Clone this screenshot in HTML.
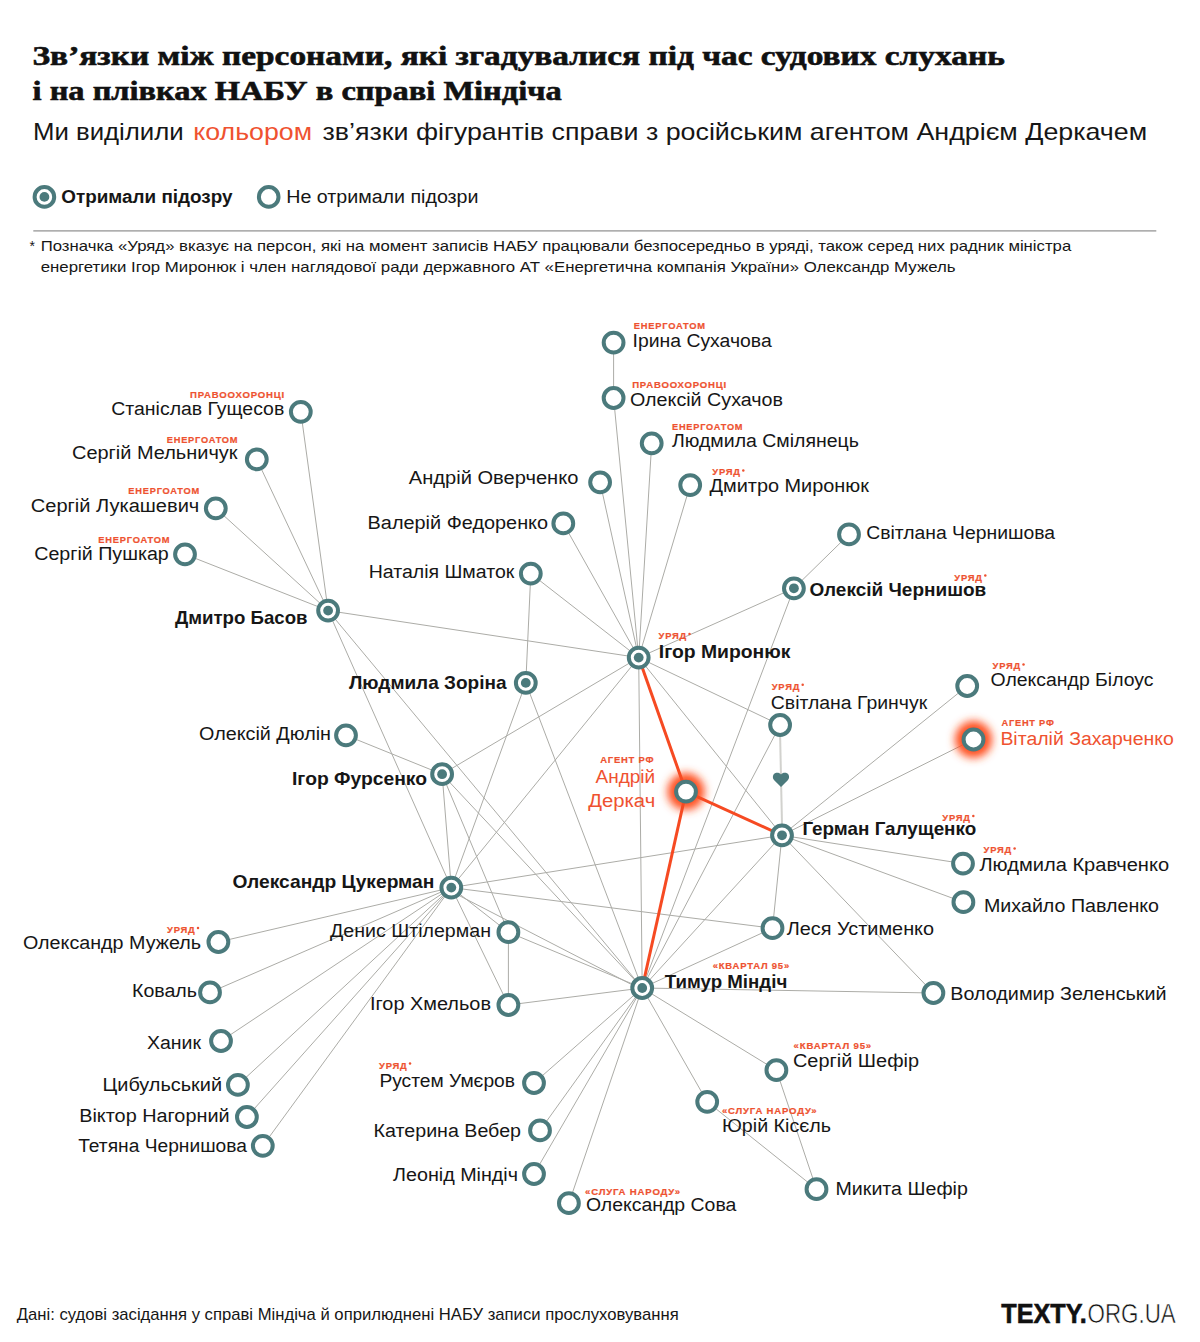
<!DOCTYPE html>
<html><head><meta charset="utf-8"><style>
html,body{margin:0;padding:0;background:#fff;}
body{width:1200px;height:1342px;overflow:hidden;}
svg{display:block;}
text{font-family:"Liberation Sans",sans-serif;}
.n{font-size:18px;fill:#161616;}
.b{font-size:18.5px;font-weight:bold;fill:#161616;}
.t{font-size:9.6px;font-weight:bold;letter-spacing:0.8px;fill:#ee5230;stroke:#ee5230;stroke-width:0.2px;}
.o{font-size:18px;fill:#ef5230;}
</style></head><body>
<svg width="1200" height="1342" viewBox="0 0 1200 1342">
<defs>
<filter id="glow" x="-100%" y="-100%" width="300%" height="300%"><feGaussianBlur stdDeviation="4"/></filter>
</defs>

<text x="32.5" y="65" textLength="972.3" lengthAdjust="spacingAndGlyphs" style="font-family:'Liberation Serif',serif;font-weight:bold;font-size:28px;fill:#111;stroke:#111;stroke-width:0.6px">Зв’язки між персонами, які згадувалися під час судових слухань</text>
<text x="32.5" y="99.7" textLength="529.2" lengthAdjust="spacingAndGlyphs" style="font-family:'Liberation Serif',serif;font-weight:bold;font-size:28px;fill:#111;stroke:#111;stroke-width:0.6px">і на плівках НАБУ в справі Міндіча</text>
<text x="33" y="140" textLength="150.7" lengthAdjust="spacingAndGlyphs" style="font-size:24px;fill:#161616">Ми виділили</text>
<text x="193.3" y="140" textLength="118.7" lengthAdjust="spacingAndGlyphs" style="font-size:24px;fill:#ef5230">кольором</text>
<text x="322.5" y="140" textLength="824.7" lengthAdjust="spacingAndGlyphs" style="font-size:24px;fill:#161616">зв’язки фігурантів справи з російським агентом Андрієм Деркачем</text>
<circle cx="44.4" cy="196.9" r="9.8" fill="#fff" stroke="#4b7a7c" stroke-width="4"/><circle cx="44.4" cy="196.9" r="4.9" fill="#4b7a7c"/>
<text x="61.3" y="203" textLength="171.2" lengthAdjust="spacingAndGlyphs" style="font-size:18px;font-weight:bold;fill:#161616">Отримали підозру</text>
<circle cx="268.7" cy="196.9" r="9.8" fill="#fff" stroke="#4b7a7c" stroke-width="4"/>
<text x="286.3" y="203.1" textLength="192.2" lengthAdjust="spacingAndGlyphs" style="font-size:18px;fill:#161616">Не отримали підозри</text>
<rect x="33.3" y="230.3" width="1123" height="1.2" fill="#8d8d8d"/>
<text x="29.5" y="251" style="font-size:14px;fill:#161616">*</text>
<text x="40.7" y="251.2" textLength="1030.5" lengthAdjust="spacingAndGlyphs" style="font-size:14.2px;fill:#161616">Позначка «Уряд» вказує на персон, які на момент записів НАБУ працювали безпосередньо в уряді, також серед них радник міністра</text>
<text x="40.7" y="272" textLength="914.8" lengthAdjust="spacingAndGlyphs" style="font-size:14.2px;fill:#161616">енергетики Ігор Миронюк і член наглядової ради державного АТ «Енергетична компанія України» Олександр Мужель</text>
<g stroke="#acaca7" stroke-width="1" fill="none">
<line x1="328.1" y1="610.6" x2="300.8" y2="411.8"/>
<line x1="328.1" y1="610.6" x2="256.8" y2="459.3"/>
<line x1="328.1" y1="610.6" x2="215.8" y2="508.3"/>
<line x1="328.1" y1="610.6" x2="185.0" y2="554.3"/>
<line x1="328.1" y1="610.6" x2="638.7" y2="657.6"/>
<line x1="328.1" y1="610.6" x2="451.3" y2="887.6"/>
<line x1="328.1" y1="610.6" x2="642.2" y2="988.0"/>
<line x1="613.6" y1="342.6" x2="613.6" y2="398.0"/>
<line x1="638.7" y1="657.6" x2="613.6" y2="398.0"/>
<line x1="638.7" y1="657.6" x2="651.7" y2="443.3"/>
<line x1="638.7" y1="657.6" x2="600.1" y2="482.3"/>
<line x1="638.7" y1="657.6" x2="690.2" y2="485.1"/>
<line x1="638.7" y1="657.6" x2="563.3" y2="523.4"/>
<line x1="638.7" y1="657.6" x2="530.8" y2="573.6"/>
<line x1="638.7" y1="657.6" x2="793.9" y2="588.3"/>
<line x1="638.7" y1="657.6" x2="442.1" y2="774.2"/>
<line x1="638.7" y1="657.6" x2="451.3" y2="887.6"/>
<line x1="638.7" y1="657.6" x2="642.2" y2="988.0"/>
<line x1="638.7" y1="657.6" x2="782.0" y2="835.3"/>
<line x1="638.7" y1="657.6" x2="780.1" y2="725.0"/>
<line x1="849.0" y1="534.4" x2="793.9" y2="588.3"/>
<line x1="793.9" y1="588.3" x2="642.2" y2="988.0"/>
<line x1="530.8" y1="573.6" x2="525.8" y2="682.9"/>
<line x1="525.8" y1="682.9" x2="451.3" y2="887.6"/>
<line x1="525.8" y1="682.9" x2="642.2" y2="988.0"/>
<line x1="346.0" y1="735.3" x2="442.1" y2="774.2"/>
<line x1="442.1" y1="774.2" x2="451.3" y2="887.6"/>
<line x1="442.1" y1="774.2" x2="508.4" y2="932.2"/>
<line x1="442.1" y1="774.2" x2="642.2" y2="988.0"/>
<line x1="780.1" y1="725.0" x2="642.2" y2="988.0"/>
<line x1="782.0" y1="835.3" x2="967.2" y2="686.0"/>
<line x1="782.0" y1="835.3" x2="973.5" y2="739.5"/>
<line x1="782.0" y1="835.3" x2="963.0" y2="863.6"/>
<line x1="782.0" y1="835.3" x2="963.4" y2="902.2"/>
<line x1="782.0" y1="835.3" x2="933.4" y2="993.0"/>
<line x1="782.0" y1="835.3" x2="772.5" y2="928.2"/>
<line x1="782.0" y1="835.3" x2="642.2" y2="988.0"/>
<line x1="782.0" y1="835.3" x2="451.3" y2="887.6"/>
<line x1="451.3" y1="887.6" x2="218.4" y2="942.0"/>
<line x1="451.3" y1="887.6" x2="210.0" y2="992.4"/>
<line x1="451.3" y1="887.6" x2="221.0" y2="1041.0"/>
<line x1="451.3" y1="887.6" x2="237.9" y2="1084.9"/>
<line x1="451.3" y1="887.6" x2="246.9" y2="1117.0"/>
<line x1="451.3" y1="887.6" x2="262.8" y2="1145.8"/>
<line x1="451.3" y1="887.6" x2="508.4" y2="932.2"/>
<line x1="451.3" y1="887.6" x2="508.4" y2="1005.0"/>
<line x1="451.3" y1="891.5" x2="642.2" y2="990.0"/>
<line x1="451.3" y1="887.6" x2="772.5" y2="928.2"/>
<line x1="508.4" y1="932.2" x2="508.4" y2="1005.0"/>
<line x1="508.4" y1="932.2" x2="642.2" y2="988.0"/>
<line x1="508.4" y1="1005.0" x2="642.2" y2="988.0"/>
<line x1="772.5" y1="928.2" x2="642.2" y2="988.0"/>
<line x1="642.2" y1="988.0" x2="933.4" y2="993.0"/>
<line x1="642.2" y1="988.0" x2="776.4" y2="1070.2"/>
<line x1="642.2" y1="988.0" x2="707.2" y2="1101.8"/>
<line x1="642.2" y1="988.0" x2="568.9" y2="1203.2"/>
<line x1="642.2" y1="988.0" x2="534.0" y2="1174.0"/>
<line x1="642.2" y1="988.0" x2="540.0" y2="1130.4"/>
<line x1="642.2" y1="988.0" x2="534.0" y2="1083.0"/>
<line x1="776.4" y1="1070.2" x2="816.5" y2="1189.2"/>
<line x1="707.2" y1="1101.8" x2="816.5" y2="1189.2"/>
</g>
<circle cx="686.0" cy="791.6" r="18.5" fill="#ff4d1f" filter="url(#glow)"/>
<circle cx="973.5" cy="739.5" r="18.5" fill="#ff4d1f" filter="url(#glow)"/>
<g stroke="#f64a22" stroke-width="3" fill="none">
<line x1="638.7" y1="657.6" x2="686.0" y2="791.6"/>
<line x1="686.0" y1="791.6" x2="782.0" y2="835.3"/>
<line x1="686.0" y1="791.6" x2="642.2" y2="988.0"/>
</g>
<line x1="780.1" y1="735" x2="782" y2="825" stroke="#d2d2ce" stroke-width="2"/>
<path d="M781,787 L774.2,780.2 C772.2,778.2 772.6,774.4 775,773.3 C777.3,772.3 779.8,772.9 781,774.6 C782.2,772.9 784.7,772.3 787,773.3 C789.4,774.4 789.8,778.2 787.8,780.2 Z" fill="#4b7a7c"/>
<circle cx="300.8" cy="411.8" r="9.9" fill="#fff" stroke="#4b7a7c" stroke-width="4"/>
<circle cx="256.8" cy="459.3" r="9.9" fill="#fff" stroke="#4b7a7c" stroke-width="4"/>
<circle cx="215.8" cy="508.3" r="9.9" fill="#fff" stroke="#4b7a7c" stroke-width="4"/>
<circle cx="185.0" cy="554.3" r="9.9" fill="#fff" stroke="#4b7a7c" stroke-width="4"/>
<circle cx="328.1" cy="610.6" r="9.9" fill="#fff" stroke="#4b7a7c" stroke-width="4"/>
<circle cx="328.1" cy="610.6" r="4.9" fill="#4b7a7c"/>
<circle cx="613.6" cy="342.6" r="9.9" fill="#fff" stroke="#4b7a7c" stroke-width="4"/>
<circle cx="613.6" cy="398.0" r="9.9" fill="#fff" stroke="#4b7a7c" stroke-width="4"/>
<circle cx="651.7" cy="443.3" r="9.9" fill="#fff" stroke="#4b7a7c" stroke-width="4"/>
<circle cx="600.1" cy="482.3" r="9.9" fill="#fff" stroke="#4b7a7c" stroke-width="4"/>
<circle cx="690.2" cy="485.1" r="9.9" fill="#fff" stroke="#4b7a7c" stroke-width="4"/>
<circle cx="563.3" cy="523.4" r="9.9" fill="#fff" stroke="#4b7a7c" stroke-width="4"/>
<circle cx="530.8" cy="573.6" r="9.9" fill="#fff" stroke="#4b7a7c" stroke-width="4"/>
<circle cx="849.0" cy="534.4" r="9.9" fill="#fff" stroke="#4b7a7c" stroke-width="4"/>
<circle cx="793.9" cy="588.3" r="9.9" fill="#fff" stroke="#4b7a7c" stroke-width="4"/>
<circle cx="793.9" cy="588.3" r="4.9" fill="#4b7a7c"/>
<circle cx="638.7" cy="657.6" r="9.9" fill="#fff" stroke="#4b7a7c" stroke-width="4"/>
<circle cx="638.7" cy="657.6" r="4.9" fill="#4b7a7c"/>
<circle cx="525.8" cy="682.9" r="9.9" fill="#fff" stroke="#4b7a7c" stroke-width="4"/>
<circle cx="525.8" cy="682.9" r="4.9" fill="#4b7a7c"/>
<circle cx="346.0" cy="735.3" r="9.9" fill="#fff" stroke="#4b7a7c" stroke-width="4"/>
<circle cx="442.1" cy="774.2" r="9.9" fill="#fff" stroke="#4b7a7c" stroke-width="4"/>
<circle cx="442.1" cy="774.2" r="4.9" fill="#4b7a7c"/>
<circle cx="686.0" cy="791.6" r="9.9" fill="#fff" stroke="#4b7a7c" stroke-width="4"/>
<circle cx="780.1" cy="725.0" r="9.9" fill="#fff" stroke="#4b7a7c" stroke-width="4"/>
<circle cx="967.2" cy="686.0" r="9.9" fill="#fff" stroke="#4b7a7c" stroke-width="4"/>
<circle cx="973.5" cy="739.5" r="9.9" fill="#fff" stroke="#4b7a7c" stroke-width="4"/>
<circle cx="782.0" cy="835.3" r="9.9" fill="#fff" stroke="#4b7a7c" stroke-width="4"/>
<circle cx="782.0" cy="835.3" r="4.9" fill="#4b7a7c"/>
<circle cx="963.0" cy="863.6" r="9.9" fill="#fff" stroke="#4b7a7c" stroke-width="4"/>
<circle cx="963.4" cy="902.2" r="9.9" fill="#fff" stroke="#4b7a7c" stroke-width="4"/>
<circle cx="451.3" cy="887.6" r="9.9" fill="#fff" stroke="#4b7a7c" stroke-width="4"/>
<circle cx="451.3" cy="887.6" r="4.9" fill="#4b7a7c"/>
<circle cx="508.4" cy="932.2" r="9.9" fill="#fff" stroke="#4b7a7c" stroke-width="4"/>
<circle cx="772.5" cy="928.2" r="9.9" fill="#fff" stroke="#4b7a7c" stroke-width="4"/>
<circle cx="218.4" cy="942.0" r="9.9" fill="#fff" stroke="#4b7a7c" stroke-width="4"/>
<circle cx="642.2" cy="988.0" r="9.9" fill="#fff" stroke="#4b7a7c" stroke-width="4"/>
<circle cx="642.2" cy="988.0" r="4.9" fill="#4b7a7c"/>
<circle cx="933.4" cy="993.0" r="9.9" fill="#fff" stroke="#4b7a7c" stroke-width="4"/>
<circle cx="210.0" cy="992.4" r="9.9" fill="#fff" stroke="#4b7a7c" stroke-width="4"/>
<circle cx="508.4" cy="1005.0" r="9.9" fill="#fff" stroke="#4b7a7c" stroke-width="4"/>
<circle cx="221.0" cy="1041.0" r="9.9" fill="#fff" stroke="#4b7a7c" stroke-width="4"/>
<circle cx="776.4" cy="1070.2" r="9.9" fill="#fff" stroke="#4b7a7c" stroke-width="4"/>
<circle cx="534.0" cy="1083.0" r="9.9" fill="#fff" stroke="#4b7a7c" stroke-width="4"/>
<circle cx="237.9" cy="1084.9" r="9.9" fill="#fff" stroke="#4b7a7c" stroke-width="4"/>
<circle cx="707.2" cy="1101.8" r="9.9" fill="#fff" stroke="#4b7a7c" stroke-width="4"/>
<circle cx="246.9" cy="1117.0" r="9.9" fill="#fff" stroke="#4b7a7c" stroke-width="4"/>
<circle cx="540.0" cy="1130.4" r="9.9" fill="#fff" stroke="#4b7a7c" stroke-width="4"/>
<circle cx="262.8" cy="1145.8" r="9.9" fill="#fff" stroke="#4b7a7c" stroke-width="4"/>
<circle cx="534.0" cy="1174.0" r="9.9" fill="#fff" stroke="#4b7a7c" stroke-width="4"/>
<circle cx="816.5" cy="1189.2" r="9.9" fill="#fff" stroke="#4b7a7c" stroke-width="4"/>
<circle cx="568.9" cy="1203.2" r="9.9" fill="#fff" stroke="#4b7a7c" stroke-width="4"/>
<text class="t" x="190.0" y="397.5" textLength="95.0" lengthAdjust="spacingAndGlyphs">ПРАВООХОРОНЦІ</text>
<text class="n" x="111.3" y="415.0" textLength="173.0" lengthAdjust="spacingAndGlyphs">Станіслав Гущесов</text>
<text class="t" x="166.8" y="442.5" textLength="71.5" lengthAdjust="spacingAndGlyphs">ЕНЕРГОАТОМ</text>
<text class="n" x="72.0" y="459.4" textLength="165.5" lengthAdjust="spacingAndGlyphs">Сергій Мельничук</text>
<text class="t" x="128.3" y="494.0" textLength="71.7" lengthAdjust="spacingAndGlyphs">ЕНЕРГОАТОМ</text>
<text class="n" x="30.8" y="511.5" textLength="168.5" lengthAdjust="spacingAndGlyphs">Сергій Лукашевич</text>
<text class="t" x="98.3" y="542.5" textLength="72.0" lengthAdjust="spacingAndGlyphs">ЕНЕРГОАТОМ</text>
<text class="n" x="34.2" y="560.0" textLength="134.6" lengthAdjust="spacingAndGlyphs">Сергій Пушкар</text>
<text class="b" x="175.0" y="624.2" textLength="132.5" lengthAdjust="spacingAndGlyphs">Дмитро Басов</text>
<text class="t" x="633.8" y="328.8" textLength="72.0" lengthAdjust="spacingAndGlyphs">ЕНЕРГОАТОМ</text>
<text class="n" x="632.5" y="347.0" textLength="139.2" lengthAdjust="spacingAndGlyphs">Ірина Сухачова</text>
<text class="t" x="632.2" y="388.0" textLength="94.8" lengthAdjust="spacingAndGlyphs">ПРАВООХОРОНЦІ</text>
<text class="n" x="630.0" y="406.3" textLength="153.0" lengthAdjust="spacingAndGlyphs">Олексій Сухачов</text>
<text class="t" x="672.0" y="429.7" textLength="71.3" lengthAdjust="spacingAndGlyphs">ЕНЕРГОАТОМ</text>
<text class="n" x="672.0" y="446.5" textLength="186.9" lengthAdjust="spacingAndGlyphs">Людмила Смілянець</text>
<text class="n" x="408.8" y="483.8" textLength="169.6" lengthAdjust="spacingAndGlyphs">Андрій Оверченко</text>
<text class="t" x="712.3" y="475.4" textLength="28.5" lengthAdjust="spacingAndGlyphs">УРЯД</text>
<circle cx="743.3" cy="470.4" r="1.25" fill="#ee5230"/>
<text class="n" x="709.5" y="492.4" textLength="159.5" lengthAdjust="spacingAndGlyphs">Дмитро Миронюк</text>
<text class="n" x="367.6" y="529.3" textLength="180.5" lengthAdjust="spacingAndGlyphs">Валерій Федоренко</text>
<text class="n" x="368.7" y="578.1" textLength="145.6" lengthAdjust="spacingAndGlyphs">Наталія Шматок</text>
<text class="n" x="866.3" y="538.8" textLength="188.7" lengthAdjust="spacingAndGlyphs">Світлана Чернишова</text>
<text class="t" x="954.3" y="580.5" textLength="28.5" lengthAdjust="spacingAndGlyphs">УРЯД</text>
<circle cx="985.3" cy="575.5" r="1.25" fill="#ee5230"/>
<text class="b" x="809.5" y="596.3" textLength="176.8" lengthAdjust="spacingAndGlyphs">Олексій Чернишов</text>
<text class="t" x="658.5" y="638.9" textLength="28.5" lengthAdjust="spacingAndGlyphs">УРЯД</text>
<circle cx="689.5" cy="633.9" r="1.25" fill="#ee5230"/>
<text class="b" x="658.8" y="657.6" textLength="131.7" lengthAdjust="spacingAndGlyphs">Ігор Миронюк</text>
<text class="b" x="349.0" y="689.1" textLength="157.5" lengthAdjust="spacingAndGlyphs">Людмила Зоріна</text>
<text class="n" x="199.0" y="740.4" textLength="132.0" lengthAdjust="spacingAndGlyphs">Олексій Дюлін</text>
<text class="b" x="292.0" y="785.4" textLength="135.0" lengthAdjust="spacingAndGlyphs">Ігор Фурсенко</text>
<text class="t" x="600.2" y="763.4" textLength="54.1" lengthAdjust="spacingAndGlyphs">АГЕНТ РФ</text>
<text class="o" x="595.6" y="782.8" textLength="59.6" lengthAdjust="spacingAndGlyphs">Андрій</text>
<text class="o" x="588.3" y="807.0" textLength="66.9" lengthAdjust="spacingAndGlyphs">Деркач</text>
<text class="t" x="771.7" y="689.7" textLength="28.5" lengthAdjust="spacingAndGlyphs">УРЯД</text>
<circle cx="802.7" cy="684.7" r="1.25" fill="#ee5230"/>
<text class="n" x="770.8" y="708.7" textLength="156.4" lengthAdjust="spacingAndGlyphs">Світлана Гринчук</text>
<text class="t" x="992.5" y="669.4" textLength="28.5" lengthAdjust="spacingAndGlyphs">УРЯД</text>
<circle cx="1023.5" cy="664.4" r="1.25" fill="#ee5230"/>
<text class="n" x="990.6" y="685.8" textLength="162.9" lengthAdjust="spacingAndGlyphs">Олександр Білоус</text>
<text class="t" x="1001.5" y="726.0" textLength="53.1" lengthAdjust="spacingAndGlyphs">АГЕНТ РФ</text>
<text class="o" x="1000.4" y="744.8" textLength="173.4" lengthAdjust="spacingAndGlyphs">Віталій Захарченко</text>
<text class="t" x="942.3" y="821.1" textLength="28.5" lengthAdjust="spacingAndGlyphs">УРЯД</text>
<circle cx="973.3" cy="816.1" r="1.25" fill="#ee5230"/>
<text class="b" x="802.4" y="834.8" textLength="173.8" lengthAdjust="spacingAndGlyphs">Герман Галущенко</text>
<text class="t" x="983.6" y="853.4" textLength="28.5" lengthAdjust="spacingAndGlyphs">УРЯД</text>
<circle cx="1014.6" cy="848.4" r="1.25" fill="#ee5230"/>
<text class="n" x="979.4" y="871.0" textLength="189.7" lengthAdjust="spacingAndGlyphs">Людмила Кравченко</text>
<text class="n" x="984.0" y="911.8" textLength="175.0" lengthAdjust="spacingAndGlyphs">Михайло Павленко</text>
<text class="b" x="232.4" y="887.6" textLength="202.0" lengthAdjust="spacingAndGlyphs">Олександр Цукерман</text>
<text class="n" x="330.0" y="937.0" textLength="161.0" lengthAdjust="spacingAndGlyphs">Денис Штілерман</text>
<text class="n" x="786.7" y="935.3" textLength="147.4" lengthAdjust="spacingAndGlyphs">Леся Устименко</text>
<text class="t" x="167.0" y="933.0" textLength="28.5" lengthAdjust="spacingAndGlyphs">УРЯД</text>
<circle cx="198.0" cy="928.0" r="1.25" fill="#ee5230"/>
<text class="n" x="23.0" y="949.0" textLength="178.0" lengthAdjust="spacingAndGlyphs">Олександр Мужель</text>
<text class="t" x="712.7" y="969.4" textLength="77.3" lengthAdjust="spacingAndGlyphs">«КВАРТАЛ 95»</text>
<text class="b" x="664.7" y="987.7" textLength="122.6" lengthAdjust="spacingAndGlyphs">Тимур Міндіч</text>
<text class="n" x="950.3" y="999.8" textLength="216.3" lengthAdjust="spacingAndGlyphs">Володимир Зеленський</text>
<text class="n" x="132.0" y="997.4" textLength="65.0" lengthAdjust="spacingAndGlyphs">Коваль</text>
<text class="n" x="370.0" y="1010.0" textLength="121.0" lengthAdjust="spacingAndGlyphs">Ігор Хмельов</text>
<text class="n" x="147.0" y="1049.4" textLength="54.0" lengthAdjust="spacingAndGlyphs">Ханик</text>
<text class="t" x="793.6" y="1049.0" textLength="78.4" lengthAdjust="spacingAndGlyphs">«КВАРТАЛ 95»</text>
<text class="n" x="793.0" y="1066.6" textLength="126.0" lengthAdjust="spacingAndGlyphs">Сергій Шефір</text>
<text class="t" x="379.0" y="1068.6" textLength="28.5" lengthAdjust="spacingAndGlyphs">УРЯД</text>
<circle cx="410.0" cy="1063.6" r="1.25" fill="#ee5230"/>
<text class="n" x="379.4" y="1087.0" textLength="135.6" lengthAdjust="spacingAndGlyphs">Рустем Умєров</text>
<text class="n" x="102.6" y="1091.0" textLength="119.4" lengthAdjust="spacingAndGlyphs">Цибульський</text>
<text class="t" x="722.0" y="1114.0" textLength="95.4" lengthAdjust="spacingAndGlyphs">«СЛУГА НАРОДУ»</text>
<text class="n" x="722.0" y="1132.0" textLength="109.0" lengthAdjust="spacingAndGlyphs">Юрій Кісєль</text>
<text class="n" x="79.2" y="1122.3" textLength="150.4" lengthAdjust="spacingAndGlyphs">Віктор Нагорний</text>
<text class="n" x="373.6" y="1137.0" textLength="147.4" lengthAdjust="spacingAndGlyphs">Катерина Вебер</text>
<text class="n" x="78.2" y="1152.0" textLength="168.7" lengthAdjust="spacingAndGlyphs">Тетяна Чернишова</text>
<text class="n" x="393.0" y="1181.0" textLength="125.0" lengthAdjust="spacingAndGlyphs">Леонід Міндіч</text>
<text class="n" x="835.5" y="1194.5" textLength="132.3" lengthAdjust="spacingAndGlyphs">Микита Шефір</text>
<text class="t" x="585.0" y="1194.5" textLength="95.9" lengthAdjust="spacingAndGlyphs">«СЛУГА НАРОДУ»</text>
<text class="n" x="585.9" y="1210.8" textLength="150.5" lengthAdjust="spacingAndGlyphs">Олександр Сова</text>
<text x="16.7" y="1319.7" textLength="662" lengthAdjust="spacingAndGlyphs" style="font-size:16.2px;fill:#161616">Дані: судові засідання у справі Міндіча й оприлюднені НАБУ записи прослуховування</text>
<text x="1001.3" y="1323.3" textLength="85.4" lengthAdjust="spacingAndGlyphs" style="font-size:27.5px;font-weight:bold;fill:#111;stroke:#111;stroke-width:0.6px">TEXTY.</text>
<text x="1087.5" y="1323.3" textLength="88.3" lengthAdjust="spacingAndGlyphs" style="font-size:27.5px;fill:#111;stroke:#fff;stroke-width:0.55px">ORG.UA</text>
</svg></body></html>
